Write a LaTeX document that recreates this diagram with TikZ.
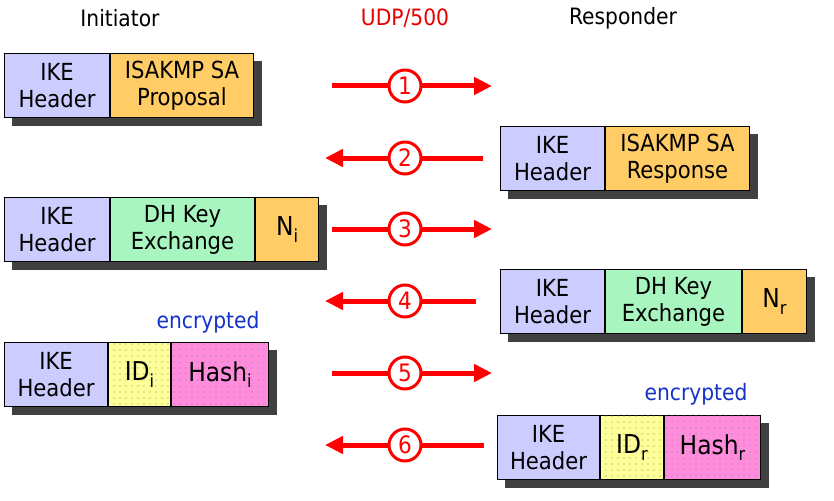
\documentclass[tikz,border=0pt]{standalone}
\usepackage{fontspec}
\setmainfont{DejaVu Sans Condensed}
\usetikzlibrary{arrows.meta,patterns.meta,backgrounds,calc}
\definecolor{ikec}{RGB}{204,204,255}
\definecolor{orc}{RGB}{255,204,102}
\definecolor{grc}{RGB}{168,245,192}
\definecolor{yec}{RGB}{255,255,153}
\definecolor{pkc}{RGB}{255,140,220}
\definecolor{shc}{RGB}{64,64,64}
\definecolor{arc}{RGB}{255,0,0}
\definecolor{udpc}{RGB}{230,0,0}
\definecolor{enc}{RGB}{20,50,200}
\definecolor{dotc}{RGB}{130,130,130}
\newcommand{\lowsub}[1]{\raisebox{-0.45ex}{\fontsize{18}{18}\selectfont #1}}
\begin{document}
\begin{tikzpicture}[x=1pt,y=-1pt,
  cell/.style={draw=black,line width=1pt,anchor=north west,minimum height=64pt,inner sep=0pt,align=center,font=\fontsize{23.5}{27}\selectfont},
  big/.style={font=\fontsize{26}{28}\selectfont},
  ike/.style={cell,fill=ikec},
  orcell/.style={cell,fill=orc},
  grcell/.style={cell,fill=grc},
  yecell/.style={cell,fill=yec,postaction={pattern={Dots[distance=6pt,radius=0.7pt]},pattern color=dotc}},
  pkcell/.style={cell,fill=pkc,postaction={pattern={Dots[distance=6pt,radius=0.7pt]},pattern color=dotc}},
  shadow/.style={fill=shc},
  arr/.style={draw=arc,line width=5pt,-{Triangle[length=18pt,width=17pt]}},
  num/.style={circle,draw=arc,line width=3pt,fill=white,text=arc,minimum size=32pt,inner sep=0pt,font=\fontsize{24}{24}\selectfont},
  head/.style={font=\fontsize{22.5}{26}\selectfont},
  encl/.style={text=enc,font=\fontsize{22.5}{26}\selectfont}]
\useasboundingbox (0,0) rectangle (834,500);

% headers
\node[head] (hi) at (120,18) {Initiator};
\node[head,text=udpc] (hu) at (405,18) {UDP/500};
\node[head] (hr) at (623,18) {Responder};

% message 1
\node[ike,minimum width=105pt] (b1a) at (4,53) {IKE\\Header};
\node[orcell,minimum width=143pt] (b1b) at (b1a.north east) {ISAKMP SA\\Proposal};
% message 2
\node[ike,minimum width=104pt] (b2a) at (500,126) {IKE\\Header};
\node[orcell,minimum width=144pt] (b2b) at (b2a.north east) {ISAKMP SA\\Response};
% message 3
\node[ike,minimum width=105pt] (b3a) at (4,197) {IKE\\Header};
\node[grcell,minimum width=144pt] (b3b) at (b3a.north east) {DH Key\\Exchange};
\node[orcell,big,minimum width=63pt] (b3c) at (b3b.north east) {N\lowsub{i}};
% message 4
\node[ike,minimum width=104pt] (b4a) at (500,269) {IKE\\Header};
\node[grcell,minimum width=136pt] (b4b) at (b4a.north east) {DH Key\\Exchange};
\node[orcell,big,minimum width=64pt] (b4c) at (b4b.north east) {N\lowsub{r}};
% message 5
\node[ike,minimum width=103pt] (b5a) at (4,342) {IKE\\Header};
\node[yecell,big,minimum width=62pt] (b5b) at (b5a.north east) {ID\lowsub{i}};
\node[pkcell,big,minimum width=97pt] (b5c) at (b5b.north east) {Hash\lowsub{i}};
\node[encl] (e5) at (208,322) {encrypted};
% message 6
\node[ike,minimum width=102pt] (b6a) at (497,415) {IKE\\Header};
\node[yecell,big,minimum width=63pt] (b6b) at (b6a.north east) {ID\lowsub{r}};
\node[pkcell,big,minimum width=96pt] (b6c) at (b6b.north east) {Hash\lowsub{r}};
\node[encl] (e6) at (696,394) {encrypted};

\begin{pgfonlayer}{background}
\fill[shadow] ($(b1a.north west)+(8,8)$) rectangle ($(b1b.south east)+(8,8)$);
\fill[shadow] ($(b2a.north west)+(8,8)$) rectangle ($(b2b.south east)+(8,8)$);
\fill[shadow] ($(b3a.north west)+(8,8)$) rectangle ($(b3c.south east)+(8,8)$);
\fill[shadow] ($(b4a.north west)+(8,8)$) rectangle ($(b4c.south east)+(8,8)$);
\fill[shadow] ($(b5a.north west)+(8,8)$) rectangle ($(b5c.south east)+(8,8)$);
\fill[shadow] ($(b6a.north west)+(8,8)$) rectangle ($(b6c.south east)+(8,8)$);
\end{pgfonlayer}

% arrows
\coordinate (s1) at (332,86);  \coordinate (t1) at (492,86);
\coordinate (s2) at (483,158); \coordinate (t2) at (325,158);
\coordinate (s3) at (332,229); \coordinate (t3) at (492,229);
\coordinate (s4) at (476,301); \coordinate (t4) at (325,301);
\coordinate (s5) at (332,373); \coordinate (t5) at (492,373);
\coordinate (s6) at (484,445); \coordinate (t6) at (325,445);
\foreach \i in {1,...,6}{
  \draw[arr] (s\i) -- (t\i);
}
\node[num] (n1) at (405,86) {1};
\node[num] (n2) at (405,158) {2};
\node[num] (n3) at (405,229) {3};
\node[num] (n4) at (405,301) {4};
\node[num] (n5) at (405,373) {5};
\node[num] (n6) at (405,445) {6};
\end{tikzpicture}
\end{document}
